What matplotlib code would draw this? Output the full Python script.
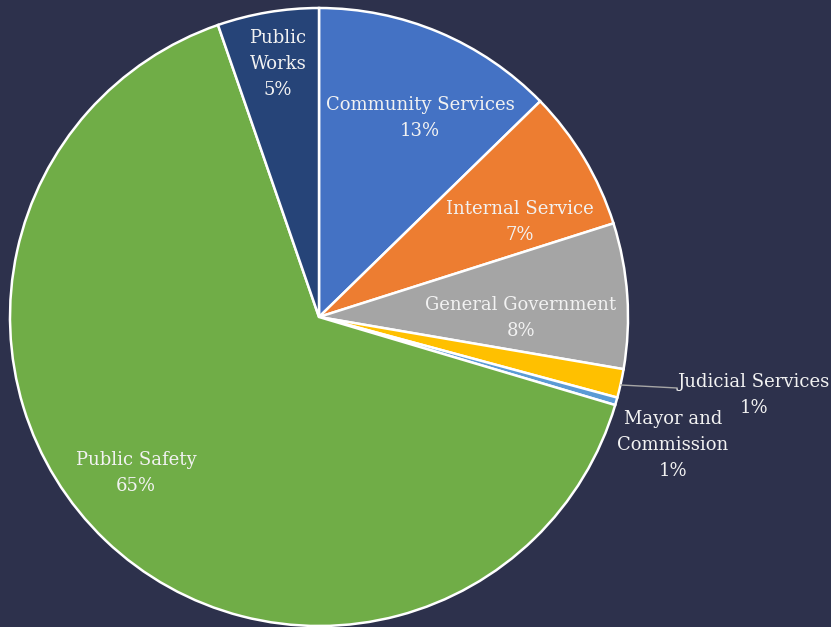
import matplotlib
matplotlib.use("Agg")
from matplotlib import pyplot as plt

# Данные диаграммы (по часовой стрелке от верха)
categories = ["Community Services", "Internal Service", "General Government",
              "Judicial Services", "Mayor and\nCommission", "Public Safety",
              "Public\nWorks"]
shares = [12.7, 7.4, 7.6, 1.5, 0.4, 65.1, 5.3]
pct_labels = ["13%", "7%", "8%", "1%", "1%", "65%", "5%"]

colors = ["#4472C4", "#ED7D31", "#A5A5A5", "#FFC000", "#5B9BD5",
          "#70AD47", "#264478"]
bg = "#2D314C"
txt = "#F2F2F2"

W, H = 831, 627
fig = plt.figure(figsize=(W / 100, H / 100), dpi=100, facecolor=bg)
ax = fig.add_axes([0, 0, 1, 1])
ax.set_facecolor(bg)

cx, cy, r = 319, H - 317, 309
ax.pie(shares, colors=colors, startangle=90, counterclock=False,
       center=(cx, cy), radius=r,
       wedgeprops=dict(edgecolor="white", linewidth=1.8))

# pie меняет пределы осей, поэтому задаём их после
ax.set_xlim(0, W)
ax.set_ylim(0, H)
ax.set_aspect("equal")
ax.axis("off")

# Положения подписей (в пикселях, от верхнего края)
label_pos = [(420, 118), (520, 222), (521, 318), (754, 395),
             (673, 445), (136, 473), (278, 64)]
for name, pct, (x, y) in zip(categories, pct_labels, label_pos):
    ax.text(x, H - y, name + "\n" + pct, ha="center", va="center",
            color=txt, fontsize=13, family="DejaVu Serif",
            linespacing=1.6)

# Выноска для Judicial Services
ax.plot([621, 677], [H - 385, H - 388], color="#A6A6A6", linewidth=1.0)

fig.savefig("out.png", dpi=100, facecolor=bg)
